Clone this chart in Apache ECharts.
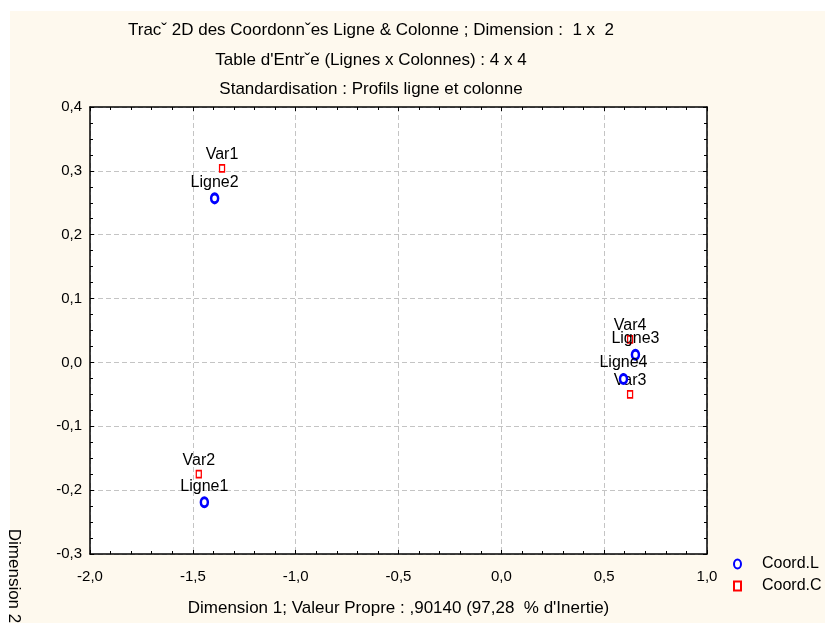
<!DOCTYPE html>
<html>
<head>
<meta charset="utf-8">
<script src="https://cdn.jsdelivr.net/npm/echarts@6/dist/echarts.min.js"></script>
<style>
html,body{margin:0;padding:0;background:#fff;}
#bg{position:absolute;left:10px;top:11px;width:815px;height:612px;background:#fef9ee;}
#chart{position:absolute;left:0;top:0;width:825px;height:623px;}
</style>
</head>
<body>
<div id="bg"></div>
<div id="chart"></div>
<script>
// ---- data ----
const ligneNames = ['Ligne1', 'Ligne2', 'Ligne3', 'Ligne4'];
const ligneX = [-1.444, -1.394, 0.652, 0.594];
const ligneY = [-0.219, 0.257, 0.012, -0.026];
const varNames = ['Var1', 'Var2', 'Var3', 'Var4'];
const varX = [-1.358, -1.471, 0.626, 0.626];
const varY = [0.304, -0.175, -0.050, 0.036];
const seriesNames = ['Coord.L', 'Coord.C'];
const titleLines = [
  'Tracˇ 2D des Coordonnˇes Ligne & Colonne ; Dimension :  1 x  2',
  "Table d'Entrˇe (Lignes x Colonnes) : 4 x 4",
  'Standardisation : Profils ligne et colonne'
];
const xAxisName = "Dimension 1; Valeur Propre : ,90140 (97,28  % d'Inertie)";
const yAxisName = 'Dimension 2';
const xMin = -2, xMax = 1, xStep = 0.5;
const yMin = -0.3, yMax = 0.4, yStep = 0.1;

const FONT = "'Liberation Sans', Arial, sans-serif";
const fmt = v => {
  let s = (Math.abs(v) < 1e-9 ? 0 : v).toFixed(1);
  return s.replace('.', ',');
};
const ellipse = 'path://M0,-4A3,4 0 1,1 0,4A3,4 0 1,1 0,-4Z';

const mk = (names, xs, ys) => names.map((n, i) => ({ name: n, value: [xs[i], ys[i]] }));

const chart = echarts.init(document.getElementById('chart'), null, { renderer: 'canvas' });

const baseAxis = {
  axisLine: { show: true, onZero: false, lineStyle: { color: '#000', width: 1.5 } },
  axisTick: { show: true, inside: true, length: 4, lineStyle: { color: '#000', width: 1 } },
  minorTick: { show: true, length: 3, lineStyle: { color: '#000', width: 1 } },
};

const option = {
  animation: false,
  backgroundColor: 'transparent',
  textStyle: { fontFamily: FONT },
  title: {
    text: titleLines.join('\n'),
    left: 371, top: 16, textAlign: 'center', padding: 0,
    textStyle: { fontFamily: FONT, fontSize: 17, fontWeight: 'normal', color: '#000', lineHeight: 29.5 }
  },
  grid: { left: 90, top: 107, right: 118, bottom: 69, show: true, backgroundColor: '#fff', borderWidth: 0 },
  xAxis: [
    Object.assign({}, baseAxis, {
      type: 'value', position: 'bottom', min: xMin, max: xMax, interval: xStep,
      minorTick: Object.assign({}, baseAxis.minorTick, { splitNumber: 5 }),
      axisLabel: { formatter: fmt, fontSize: 15, color: '#000', margin: 15, fontFamily: FONT },
      splitLine: { show: true, lineStyle: { color: '#c4c4c4', type: [5, 3], width: 1 } },
      name: xAxisName, nameLocation: 'middle', nameGap: 46,
      nameTextStyle: { fontSize: 17, color: '#000', fontFamily: FONT }
    }),
    Object.assign({}, baseAxis, {
      type: 'value', position: 'top', min: xMin, max: xMax, interval: xStep,
      minorTick: Object.assign({}, baseAxis.minorTick, { splitNumber: 5 }),
      axisLabel: { show: false }, splitLine: { show: false }
    })
  ],
  yAxis: [
    Object.assign({}, baseAxis, {
      type: 'value', position: 'left', min: yMin, max: yMax, interval: yStep,
      minorTick: Object.assign({}, baseAxis.minorTick, { splitNumber: 4 }),
      axisLabel: { formatter: fmt, fontSize: 15, color: '#000', margin: 8, fontFamily: FONT },
      splitLine: { show: true, lineStyle: { color: '#c4c4c4', type: [5, 3], width: 1 } }
    }),
    Object.assign({}, baseAxis, {
      type: 'value', position: 'right', min: yMin, max: yMax, interval: yStep,
      minorTick: Object.assign({}, baseAxis.minorTick, { splitNumber: 4 }),
      axisLabel: { show: false }, splitLine: { show: false }
    })
  ],
  legend: {
    orient: 'vertical', left: 733, top: 556, itemGap: 6, padding: 0,
    itemWidth: 7, itemHeight: 9, symbolKeepAspect: false,
    textStyle: { fontSize: 16, color: '#000', fontFamily: FONT, padding: [0, 0, 0, 16] },
    data: seriesNames
  },
  graphic: [{
    type: 'text', x: 14, y: 576, rotation: -Math.PI / 2,
    style: { text: yAxisName, fontSize: 17, fontFamily: FONT, fill: '#000', align: 'center', verticalAlign: 'middle' }
  }],
  series: [
    {
      name: seriesNames[0], type: 'scatter', symbol: ellipse, symbolSize: [7, 9],
      itemStyle: { color: '#fff', borderColor: '#0000ff', borderWidth: 2.8, opacity: 1 },
      label: { show: true, position: 'top', distance: 2, formatter: '{b}', fontSize: 16, color: '#000', fontFamily: FONT },
      data: mk(ligneNames, ligneX, ligneY), z: 3
    },
    {
      name: seriesNames[1], type: 'scatter', symbol: 'rect', symbolSize: [5, 7],
      itemStyle: { color: '#fff', borderColor: '#ff0000', borderWidth: 1.5, opacity: 1 },
      label: { show: true, position: 'top', distance: 1, formatter: '{b}', fontSize: 16, color: '#000', fontFamily: FONT },
      data: mk(varNames, varX, varY), z: 2
    }
  ]
};
chart.setOption(option);
</script>
</body>
</html>
